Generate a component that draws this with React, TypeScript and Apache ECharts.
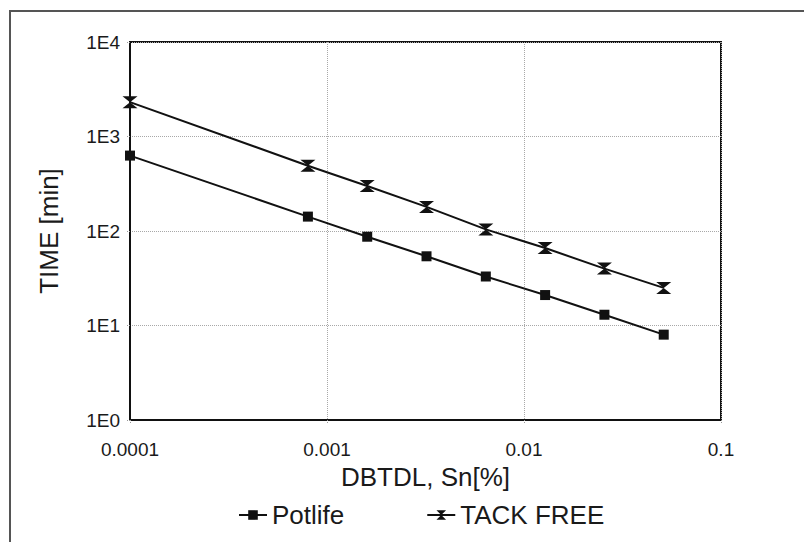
import React, { useEffect, useRef } from "react";
import * as echarts from "echarts";

const concentrations = [0.0001, 0.0008, 0.0016, 0.0032, 0.0064, 0.0128, 0.0256, 0.0512];
const potlife = [628, 142, 87, 54, 33, 21, 13, 8];
const tackFree = [2310, 491, 299, 180, 104, 66, 40, 25];
const xTickLabels = ["0.0001", "0.001", "0.01", "0.1"]; // exponents -4..-1
const yTickLabels = ["1E0", "1E1", "1E2", "1E3", "1E4"]; // exponents 0..4

const FONT = "'Liberation Sans', Arial, sans-serif";
const hourglass = "path://M0,0 L14,0 L7,6 L14,12 L0,12 L7,6 Z";

export default function App() {
  const ref = useRef<HTMLDivElement>(null);
  useEffect(() => {
    document.body.style.margin = "0";
    const chart = echarts.init(ref.current!, null, { renderer: "svg" });
    const gridLine = { show: true, lineStyle: { color: "#a8a8a8", type: "dotted", width: 1 } };
    chart.setOption({
      animation: false,
      backgroundColor: "#ffffff",
      textStyle: { fontFamily: FONT, color: "#1a1a1a" },
      graphic: [
        {
          type: "rect",
          shape: { x: 10, y: 11, width: 900, height: 700 },
          style: { fill: "none", stroke: "#555", lineWidth: 2 },
          silent: true,
        },
      ],
      grid: {
        left: 130,
        right: 83,
        top: 42,
        bottom: 122,
        show: true,
        borderColor: "#111",
        borderWidth: 2,
        containLabel: false,
      },
      legend: {
        left: 233,
        top: 497,
        itemGap: 82,
        itemWidth: 28,
        itemHeight: 12,
        textStyle: { fontSize: 26, color: "#1a1a1a", fontFamily: FONT },
        data: ["Potlife", "TACK FREE"],
      },
      xAxis: {
        type: "log",
        logBase: 10,
        min: 0.0001,
        max: 0.1,
        name: "DBTDL, Sn[%]",
        nameLocation: "middle",
        nameGap: 43,
        nameTextStyle: { fontSize: 26, color: "#1a1a1a", fontFamily: FONT },
        axisLine: { show: true, lineStyle: { color: "#111", width: 2 } },
        axisTick: { show: true, length: 4, lineStyle: { color: "#999", type: "dotted" } },
        axisLabel: {
          fontSize: 19,
          color: "#1a1a1a",
          margin: 20,
          formatter: (v: number) => xTickLabels[Math.round(Math.log10(v)) + 4] ?? "",
        },
        splitLine: gridLine,
        minorTick: { show: false },
      },
      yAxis: {
        type: "log",
        logBase: 10,
        min: 1,
        max: 10000,
        name: "TIME [min]",
        nameLocation: "middle",
        nameGap: 68,
        nameRotate: 90,
        nameTextStyle: { fontSize: 26, color: "#1a1a1a", fontFamily: FONT },
        axisLine: { show: true, lineStyle: { color: "#111", width: 2 } },
        axisTick: { show: true, length: 4, lineStyle: { color: "#999", type: "dotted" } },
        axisLabel: {
          fontSize: 19,
          color: "#1a1a1a",
          margin: 10,
          formatter: (v: number) => yTickLabels[Math.round(Math.log10(v))] ?? "",
        },
        splitLine: gridLine,
      },
      series: [
        {
          name: "Potlife",
          type: "line",
          data: concentrations.map((c, i) => [c, potlife[i]]),
          symbol: "rect",
          symbolSize: 10,
          itemStyle: { color: "#111" },
          lineStyle: { color: "#111", width: 2 },
        },
        {
          name: "TACK FREE",
          type: "line",
          data: concentrations.map((c, i) => [c, tackFree[i]]),
          symbol: hourglass,
          symbolSize: [15, 12],
          itemStyle: { color: "#111" },
          lineStyle: { color: "#111", width: 2 },
        },
      ],
    });
    return () => chart.dispose();
  }, []);
  return (
    <div
      ref={ref}
      style={{ position: "absolute", left: 0, top: 0, width: 804, height: 542, background: "#fff" }}
    />
  );
}
